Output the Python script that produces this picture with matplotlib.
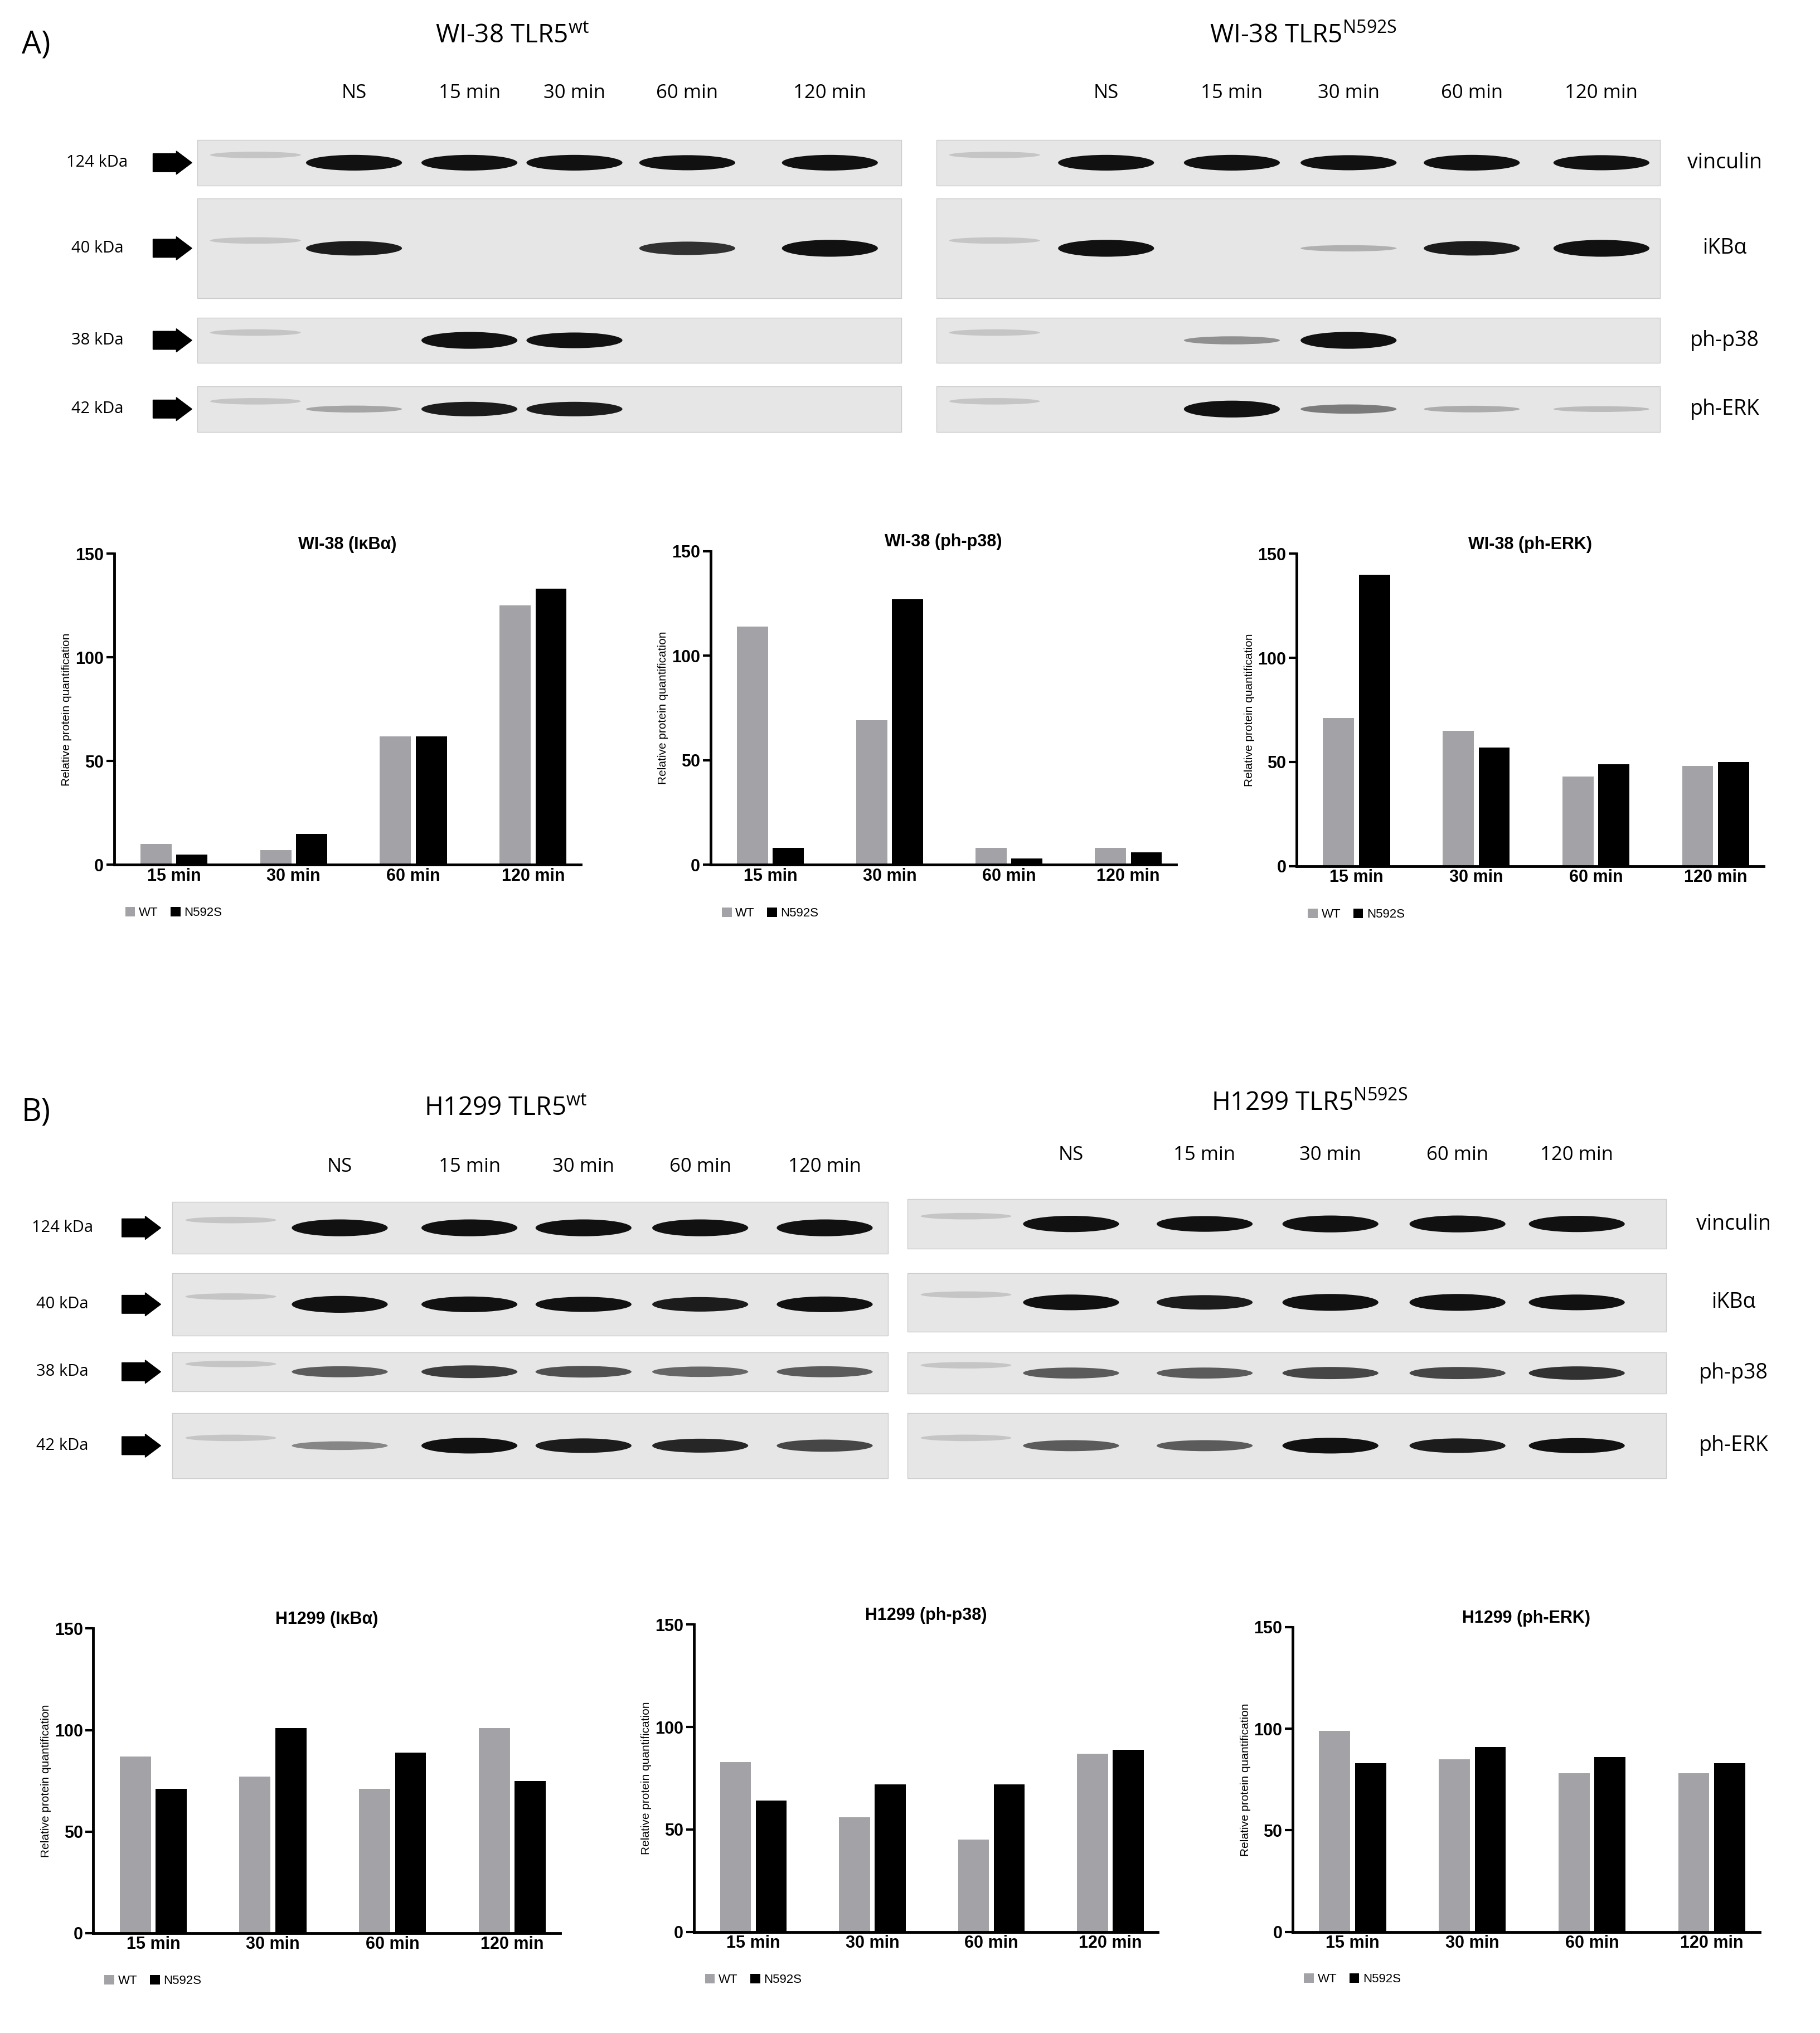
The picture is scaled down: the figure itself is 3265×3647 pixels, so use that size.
import matplotlib
matplotlib.use("Agg")
import matplotlib.pyplot as plt
import numpy as np
from matplotlib.patches import Ellipse, Rectangle, FancyArrow

W, H = 1404, 1568  # layout units (reference scaled)

TIMES = ["15 min", "30 min", "60 min", "120 min"]
LANES = ["NS", "15 min", "30 min", "60 min", "120 min"]
PROTEINS = ["vinculin", "iKBα", "ph-p38", "ph-ERK"]
KDA = ["124 kDa", "40 kDa", "38 kDa", "42 kDa"]

# bar chart values (relative protein quantification)
wi_ikba_wt = [10, 7, 62, 125]
wi_ikba_mut = [5, 15, 62, 133]
wi_p38_wt = [114, 69, 8, 8]
wi_p38_mut = [8, 127, 3, 6]
wi_erk_wt = [71, 65, 43, 48]
wi_erk_mut = [140, 57, 49, 50]
h1_ikba_wt = [87, 77, 71, 101]
h1_ikba_mut = [71, 101, 89, 75]
h1_p38_wt = [83, 56, 45, 87]
h1_p38_mut = [64, 72, 72, 89]
h1_erk_wt = [99, 85, 78, 78]
h1_erk_mut = [83, 91, 86, 83]

# blot band intensities (0-1), lanes NS..120 min, rows vinculin/iKBa/p38/ERK
wi_wt_bands = [[0.9, 0.9, 0.9, 0.85, 0.9],
               [0.8, 0.0, 0.0, 0.7, 1.0],
               [0.0, 1.0, 0.9, 0.0, 0.0],
               [0.15, 0.8, 0.8, 0.0, 0.0]]
wi_mut_bands = [[0.9, 0.9, 0.85, 0.9, 0.85],
                [1.0, 0.0, 0.1, 0.8, 1.0],
                [0.0, 0.25, 1.0, 0.0, 0.0],
                [0.0, 1.0, 0.35, 0.12, 0.05]]
h1_wt_bands = [[1.0, 1.0, 1.0, 1.0, 1.0],
               [1.0, 0.9, 0.85, 0.8, 0.9],
               [0.5, 0.65, 0.55, 0.45, 0.5],
               [0.3, 0.9, 0.8, 0.75, 0.6]]
h1_mut_bands = [[0.95, 0.9, 1.0, 1.0, 0.95],
                [0.9, 0.8, 1.0, 1.0, 0.9],
                [0.5, 0.5, 0.6, 0.6, 0.7],
                [0.5, 0.5, 0.9, 0.8, 0.85]]

GRAY = "#a3a3a7"
plt.rcParams["font.family"] = ["Liberation Sans", "DejaVu Sans"]

fig = plt.figure(figsize=(32.66, 36.47), dpi=100)
ov = fig.add_axes([0, 0, 1, 1])
ov.set_xlim(0, W)
ov.set_ylim(H, 0)
ov.axis("off")

LANE_FONT = ["Open Sans", "DejaVu Sans"]


def draw_blot(x0, x1, rows, lane_x, bands, label_y, marker=True):
    for lane, lx in zip(LANES, lane_x):
        ov.text(lx, label_y, lane, ha="center", va="center", fontsize=25, family=LANE_FONT)
    for (ytop, ybot), vals in zip(rows, bands):
        ov.add_patch(Rectangle((x0, ytop), x1 - x0, ybot - ytop, facecolor="#e6e6e6",
                               edgecolor="#cccccc", lw=1))
        yc = (ytop + ybot) / 2
        if marker:
            ov.add_patch(Ellipse((x0 + 45, yc - 6), 70, 5, facecolor="#888888", alpha=0.35, lw=0))
        for lx, v in zip(lane_x, vals):
            if v <= 0:
                continue
            ov.add_patch(Ellipse((lx, yc), 74, 4 + 9 * v, facecolor="#111111", alpha=min(1, 0.15 + v), lw=0))


def draw_left_labels(xt, xa, rows):
    for k, (ytop, ybot) in zip(KDA, rows):
        yc = (ytop + ybot) / 2
        ov.text(xt, yc, k, ha="center", va="center", fontsize=21, family=LANE_FONT)
        ov.add_patch(FancyArrow(xa - 14, yc, 18, 0, width=14, head_width=18, head_length=12,
                                facecolor="black", edgecolor="black", length_includes_head=False))


def draw_right_labels(x, rows):
    for p, (ytop, ybot) in zip(PROTEINS, rows):
        ov.text(x, (ytop + ybot) / 2, p, ha="center", va="center", fontsize=27, family=LANE_FONT)


# panel A blots
rowsA = [(108, 143), (153, 230), (245, 280), (298, 333)]
draw_blot(152, 695, rowsA, [273, 362, 443, 530, 640], wi_wt_bands, 72)
draw_blot(722, 1280, rowsA, [853, 950, 1040, 1135, 1235], wi_mut_bands, 72)
draw_left_labels(75, 132, rowsA)
draw_right_labels(1330, rowsA)
ov.text(395, 28, "WI-38 TLR5$^{\\mathregular{wt}}$", ha="center", va="center", fontsize=33, family=LANE_FONT)
ov.text(1005, 28, "WI-38 TLR5$^{\\mathregular{N592S}}$", ha="center", va="center", fontsize=33, family=LANE_FONT)
ov.text(28, 35, "A)", ha="center", va="center", fontsize=40, family=LANE_FONT)

# panel B blots
rowsBL = [(927, 967), (982, 1030), (1043, 1073), (1090, 1140)]
rowsBR = [(925, 963), (982, 1027), (1043, 1075), (1090, 1140)]
draw_blot(133, 685, rowsBL, [262, 362, 450, 540, 636], h1_wt_bands, 900)
draw_blot(700, 1285, rowsBR, [826, 929, 1026, 1124, 1216], h1_mut_bands, 891, marker=True)
draw_left_labels(48, 108, rowsBL)
draw_right_labels(1337, rowsBR)
ov.text(390, 855, "H1299 TLR5$^{\\mathregular{wt}}$", ha="center", va="center", fontsize=33, family=LANE_FONT)
ov.text(1010, 851, "H1299 TLR5$^{\\mathregular{N592S}}$", ha="center", va="center", fontsize=33, family=LANE_FONT)
ov.text(28, 858, "B)", ha="center", va="center", fontsize=40, family=LANE_FONT)


def bar_chart(box, title, wt, mut):
    x0, ytop, x1, ybot = box
    ax = fig.add_axes([x0 / W, 1 - ybot / H, (x1 - x0) / W, (ybot - ytop) / H])
    x = np.arange(len(TIMES))
    ax.bar(x - 0.15, wt, width=0.26, color=GRAY, label="WT")
    ax.bar(x + 0.15, mut, width=0.26, color="black", label="N592S")
    ax.set_xlim(-0.5, 3.4)
    ax.set_ylim(0, 150)
    ax.set_yticks([0, 50, 100, 150])
    ax.set_xticks(x)
    ax.set_xticklabels(TIMES, fontsize=22, fontweight="bold")
    for t in ax.get_yticklabels():
        t.set_fontsize(22)
        t.set_fontweight("bold")
    ax.tick_params(axis="y", width=3, length=10)
    ax.tick_params(axis="x", length=0, pad=4)
    for s in ["top", "right"]:
        ax.spines[s].set_visible(False)
    for s in ["left", "bottom"]:
        ax.spines[s].set_linewidth(3.5)
    ax.set_ylabel("Relative protein quantification", fontsize=15)
    ax.set_title(title, fontsize=22, fontweight="bold")
    ax.legend(loc="upper left", bbox_to_anchor=(0.0, -0.1), ncol=2, frameon=False,
              fontsize=16, handlelength=0.8, handleheight=0.8, columnspacing=1.0, handletextpad=0.3)


bar_chart((88, 427, 448, 667), "WI-38 (IκBα)", wi_ikba_wt, wi_ikba_mut)
bar_chart((548, 425, 907, 667), "WI-38 (ph-p38)", wi_p38_wt, wi_p38_mut)
bar_chart((1000, 427, 1360, 668), "WI-38 (ph-ERK)", wi_erk_wt, wi_erk_mut)
bar_chart((72, 1256, 432, 1491), "H1299 (IκBα)", h1_ikba_wt, h1_ikba_mut)
bar_chart((535, 1253, 893, 1490), "H1299 (ph-p38)", h1_p38_wt, h1_p38_mut)
bar_chart((997, 1255, 1357, 1490), "H1299 (ph-ERK)", h1_erk_wt, h1_erk_mut)

fig.savefig("out.png", dpi=100)
